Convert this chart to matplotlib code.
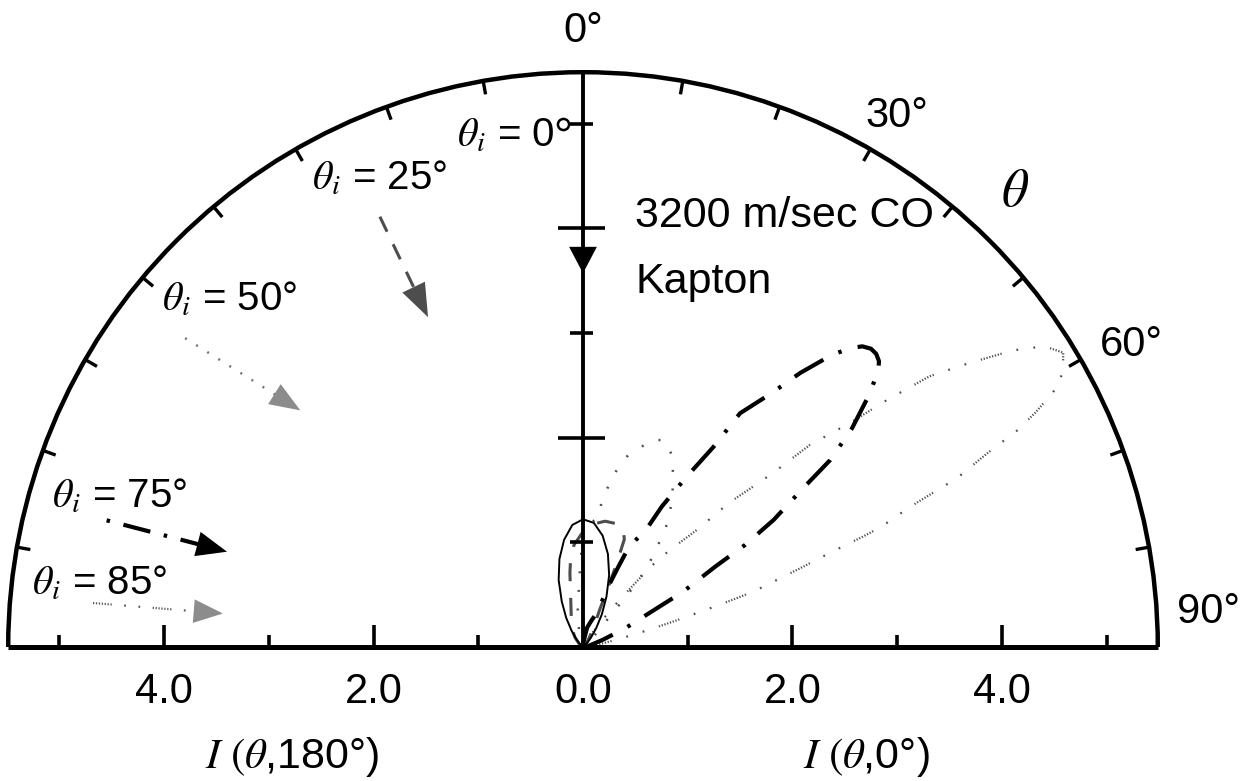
import numpy as np
import matplotlib
matplotlib.use("Agg")
import matplotlib.pyplot as plt
from matplotlib.patches import Arc

# ---------------- data (theta in degrees from surface normal, intensity) -------------
theta_0 = [-90, -60, -50, -45, -40, -35, -30, -25, -20, -15, -10, -5, 0, 5, 10, 15, 20, 25, 30, 35, 40, 45, 50, 60, 90]
I_0 = [0, 0.002, 0.02, 0.05, 0.1, 0.19, 0.32, 0.48, 0.68, 0.87, 1.04, 1.17, 1.22, 1.19, 1.08, 0.92, 0.73, 0.53, 0.36, 0.22, 0.12, 0.06, 0.025, 0.003, 0]

theta_25 = [-90, -50, -40, -30, -20, -15, -12, -10, -8, -5, 0, 5, 10, 15, 19, 21, 22, 23, 24, 27, 35, 50, 90]
I_25 = [0, 0.05, 0.12, 0.22, 0.33, 0.45, 0.58, 0.72, 0.85, 0.98, 1.1, 1.18, 1.22, 1.22, 1.19, 1.1, 0.85, 0.6, 0.4, 0.25, 0.1, 0.03, 0]

theta_50 = [-90, -20, -8, -2.3, 0, 3, 6.6, 7.4, 10, 13.2, 18.6, 21.5, 24.9, 27.9, 31.3, 34.3, 36.6, 38.8, 40, 41, 45, 55, 90]
I_50 = [0, 0.1, 0.36, 0.74, 1.09, 1.18, 1.24, 1.41, 1.67, 1.88, 2.09, 2.12, 2.02, 1.84, 1.64, 1.43, 1.19, 0.98, 0.79, 0.45, 0.15, 0.03, 0]

theta_75 = [-90, 0, 5, 12, 18, 22, 22.9, 23.8, 24.6, 28.4, 29.3, 31.3, 33.1, 33.9, 36.6, 38.4, 40.4, 41.8, 42.9,
            44.0, 45.0, 46.0, 46.8, 48.5, 50.9, 52.9, 54.2, 56.3, 57.8, 58.7, 61.1, 62.3, 66.1, 70, 80, 90]
I_75 = [0, 0, 0.05, 0.19, 0.27, 0.35, 0.66, 0.84, 1.04, 1.30, 1.54, 1.90, 2.28, 2.69, 3.02, 3.34, 3.66, 3.83, 3.92,
        3.96, 3.96, 3.93, 3.87, 3.66, 3.31, 2.96, 2.59, 2.19, 1.83, 1.48, 1.09, 0.80, 0.44, 0.2, 0.05, 0]

theta_85 = [-90, 25, 28, 33, 36, 38, 40.1, 41.8, 44.2, 45.4, 46.5, 47.5, 48.3, 50, 50.9, 52, 53.6, 55.4,
            56.9, 58.5, 60.2, 61.3, 62.6, 63.5, 64.4, 65.7, 66.1, 66.8, 68.1, 68.5, 69.1, 70, 72, 72.8,
            73.7, 74.5, 76, 78, 82, 90]
I_85 = [0, 0, 0.05, 0.15, 0.35, 0.6, 1.0, 1.24, 1.56, 1.97, 2.19, 2.46, 2.9, 3.33, 3.74, 4.2, 4.56, 4.99,
        5.26, 5.38, 5.28, 5.16, 4.87, 4.63, 4.28, 3.92, 3.71, 3.40, 3.06, 2.86, 2.53, 2.23, 1.71, 1.38,
        1.04, 0.83, 0.55, 0.3, 0.12, 0]

tick_values = [-4.0, -2.0, 0.0, 2.0, 4.0]
angle_labels = ["0°", "30°", "60°", "90°"]
incidence_labels = ["0", "25°", "50°", "75°", "85°"]

# ---------------- figure ----------------
plt.rcParams['font.family'] = ['Liberation Sans', 'DejaVu Sans']
plt.rcParams['mathtext.fontset'] = 'stix'
plt.rcParams['lines.scale_dashes'] = False

W, H = 1245, 781
fig = plt.figure(figsize=(W / 100, H / 100), dpi=100)
ax = fig.add_axes([0, 0, 1, 1])
S = 104.7          # pixels per unit
cx, cy = 583, 647  # origin in pixels
ax.set_xlim(-cx / S, (W - cx) / S)
ax.set_ylim(-(H - cy) / S, cy / S)
ax.axis('off')

R = 5.49
FS = 30


def polar_xy(th, r):
    t = np.radians(np.asarray(th, float))
    r = np.asarray(r, float)
    return r * np.sin(t), r * np.cos(t)


# frame: semicircle, baseline, vertical axis
ax.add_patch(Arc((0, 0), 2 * R, 2 * R, theta1=0, theta2=180, lw=3.2, color='k', zorder=5))
ax.plot([-R, R], [0, 0], color='k', lw=3.6, solid_capstyle='butt', zorder=5)
ax.plot([0, 0], [0, R], color='k', lw=2.8, zorder=5)

# arc ticks every 10 degrees
for a in range(-80, 90, 10):
    if a == 0:
        continue
    x0, y0 = polar_xy(a, R)
    x1, y1 = polar_xy(a, R - 0.13)
    ax.plot([x0, x1], [y0, y1], color='k', lw=2.4, solid_capstyle='butt', zorder=5)

# baseline ticks
for v in range(1, 6):
    h = 0.21 if v % 2 == 0 else 0.11
    for s in (-1, 1):
        ax.plot([s * v, s * v], [0, h], color='k', lw=2.6, solid_capstyle='butt', zorder=5)

# vertical axis ticks
for v in range(1, 5):
    if v % 2 == 0:
        ax.plot([-0.24, 0.21], [v, v], color='k', lw=2.6, solid_capstyle='butt', zorder=5)
    else:
        ax.plot([-0.12, 0.10], [v, v], color='k', lw=2.6, solid_capstyle='butt', zorder=5)
ax.plot([-0.15, 0.10], [5, 5], color='k', lw=2.6, solid_capstyle='butt', zorder=5)
ax.plot([-0.19], [5.0], marker='o', ms=8, mfc='white', mec='k', mew=1.8, zorder=6)

# incident beam arrow on axis
ax.annotate('', xy=(0, 3.57), xytext=(0, 3.84),
            arrowprops=dict(arrowstyle='-|>,head_length=19,head_width=10', mutation_scale=1,
                            color='k', lw=0, shrinkA=0, shrinkB=0), zorder=6)

# ---------------- lobes ----------------
x, y = polar_xy(theta_85, I_85)
dash85 = [0.9, 1.2] * 7 + [0.9, 11, 1.3, 11, 1.3, 11]
ax.plot(x, y, color='0.3', lw=1.6, dashes=dash85)

x, y = polar_xy(theta_50, I_50)
ax.plot(x, y, color='0.3', lw=1.8, dashes=[1.4, 12])

x, y = polar_xy(theta_25, I_25)
ax.plot(x, y, color='0.3', lw=2.2, dashes=[13, 12])

x, y = polar_xy(theta_75, I_75)
ax.plot(x, y, color='k', lw=3.0, dashes=[24, 12, 2.5, 12])

x, y = polar_xy(theta_0, I_0)
ax.plot(x, y, color='k', lw=1.4)

# ---------------- angle labels ----------------
ax.text(0, 5.88, angle_labels[0], fontsize=FS, ha='center', va='center')
ax.text(3.0, 5.07, angle_labels[1], fontsize=FS, ha='center', va='center')
ax.text(4.94, 2.88, angle_labels[2], fontsize=FS, ha='left', va='center')
ax.text(5.67, 0.33, angle_labels[3], fontsize=FS, ha='left', va='center')
ax.text(4.13, 4.35, r'$\theta$', fontsize=38, ha='center', va='center')

# tick labels and axis titles
for v in tick_values:
    ax.text(v, -0.43, f"{abs(v):.1f}", fontsize=FS, ha='center', va='center')
ax.text(-2.78, -1.05, r'$I\ (\theta$,180°)', fontsize=31, ha='center', va='center')
ax.text(2.71, -1.05, r'$I\ (\theta$,0°)', fontsize=31, ha='center', va='center')

# beam description
ax.text(0.50, 4.12, '3200 m/sec CO', fontsize=31, ha='left', va='center')
ax.text(0.50, 3.49, 'Kapton', fontsize=31, ha='left', va='center')

# incidence angle labels
ax.text(-0.27, 4.78, r'$\theta_i$ = ' + incidence_labels[0], fontsize=29, ha='right', va='baseline')
ax.text(-2.59, 4.365, r'$\theta_i$ = ' + incidence_labels[1], fontsize=29, ha='left', va='baseline')
ax.text(-4.02, 3.21, r'$\theta_i$ = ' + incidence_labels[2], fontsize=29, ha='left', va='baseline')
ax.text(-5.07, 1.33, r'$\theta_i$ = ' + incidence_labels[3], fontsize=29, ha='left', va='baseline')
ax.text(-5.26, 0.50, r'$\theta_i$ = ' + incidence_labels[4], fontsize=29, ha='left', va='baseline')


def key_arrow(start, tip, color, dashes, lw, head_color, hl=21, hw=8.5):
    start = np.array(start, float)
    tip = np.array(tip, float)
    d = tip - start
    L = np.hypot(*d)
    u = d / L
    hl_units = hl / 72 * 100 / S
    base = tip - u * hl_units
    ax.plot([start[0], base[0] + u[0] * 0.05], [start[1], base[1] + u[1] * 0.05],
            color=color, lw=lw, dashes=dashes)
    ax.annotate('', xy=tuple(tip), xytext=tuple(base),
                arrowprops=dict(arrowstyle=f'-|>,head_length={hl},head_width={hw}', mutation_scale=1,
                                color=head_color, lw=0, shrinkA=0, shrinkB=0))


key_arrow((-1.94, 4.11), (-1.48, 3.15), '0.3', [12, 10], 2.2, '0.3', hl=24, hw=9)
key_arrow((-3.80, 2.95), (-2.70, 2.26), '0.45', [1.4, 8], 1.8, '0.55', hl=22, hw=8.5)
key_arrow((-4.55, 1.21), (-3.40, 0.91), 'k', [2.5, 10, 20, 10], 3.0, 'k', hl=22, hw=9)
key_arrow((-4.68, 0.42), (-3.44, 0.32), '0.35', [0.9, 1.2] * 6 + [0.9, 9, 1.3, 9, 1.3, 9], 1.6, '0.55', hl=21, hw=8.5)

fig.savefig('out.png', dpi=100)
